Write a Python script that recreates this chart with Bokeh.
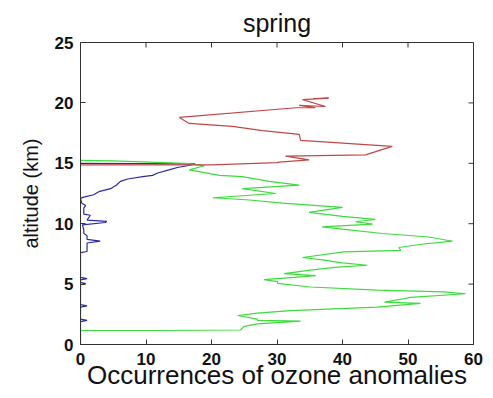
from bokeh.plotting import figure
from bokeh.models import FixedTicker, Range1d
from bokeh.embed import file_html
from bokeh.resources import INLINE

# ---- data ----
blue_alt = [0.0, 1.9, 2.0, 2.1, 3.1, 3.2, 3.3, 4.95, 5.05, 5.15, 5.35, 5.45, 5.55, 7.6, 7.7, 8.0,
            8.4, 8.55, 8.7, 9.0, 9.2, 9.5, 9.9, 10.1, 10.2, 10.3, 10.7, 10.8, 11.3, 11.5, 11.7,
            12.1, 12.2, 12.4, 12.65, 12.9, 13.2, 13.5, 13.7, 13.9, 14.0, 14.2, 14.45, 14.65,
            14.8, 14.95, 15.0]
blue_occ = [0.0, 0.0, 1.0, 0.0, 0.0, 1.0, 0.0, 0.0, 0.8, 0.0, 0.0, 1.0, 0.0, 0.0, 1.0, 1.0,
            1.0, 3.0, 1.0, 1.0, 0.5, 0.5, 0.3, 3.8, 4.0, 1.0, 1.5, 0.5, 0.5, 0.8, 0.2,
            0.0, 0.5, 2.0, 2.8, 4.6, 5.5, 6.1, 7.2, 9.5, 11.0, 11.8, 13.5, 14.8,
            16.3, 17.5, 0.0]

green_alt = [1.16, 1.16, 1.2, 1.5, 1.7, 1.94, 2.0, 2.1, 2.4, 2.6, 2.8, 3.1, 3.4, 3.5, 3.9, 4.2,
             4.35, 4.5, 4.76, 5.06, 5.2, 5.37, 5.54, 5.7, 5.87, 6.15, 6.4, 6.56, 6.75, 6.98,
             7.2, 7.67, 7.8, 8.03, 8.3, 8.55, 8.9, 9.19, 9.55, 9.74, 9.97, 10.16, 10.35, 10.6,
             10.94, 11.35, 11.7, 11.96, 12.15, 12.5, 12.9, 13.2, 13.5, 13.9, 14.0, 14.45,
             14.8, 15.0, 15.2, 15.25]
green_occ = [0.0, 11.5, 24.4, 25.0, 27.0, 33.6, 27.0, 27.0, 24.0, 27.0, 32.1, 45.3, 51.9, 46.4,
             50.4, 58.8, 55.5, 45.3, 35.1, 30.1, 30.1, 28.0, 32.1, 35.9, 31.1, 35.1, 39.2, 43.8,
             40.0, 37.2, 33.9, 40.2, 48.9, 48.6, 52.0, 56.8, 53.2, 46.1, 40.0, 36.9, 44.6, 42.0,
             45.0, 40.0, 34.9, 40.0, 30.8, 25.8, 20.2, 29.8, 24.7, 33.4, 28.8, 24.7, 21.2, 16.6,
             18.9, 16.0, 5.0, 0.0]

red_alt = [14.87, 14.87, 15.05, 15.1, 15.28, 15.6, 15.7, 16.4, 16.9, 17.4, 17.7, 18.05, 18.3,
           18.8, 19.6, 19.6, 19.8, 19.7, 20.27, 20.4, 20.35]
red_occ = [0.0, 20.0, 30.0, 30.3, 34.9, 31.3, 43.5, 47.6, 33.6, 33.4, 27.8, 23.2, 16.6,
           15.1, 32.9, 35.9, 33.4, 37.4, 33.9, 37.9, 35.5]

x_ticks = [0, 10, 20, 30, 40, 50, 60]
y_ticks = [0, 5, 10, 15, 20, 25]
x_min, x_max = 0, 60
y_min, y_max = 0, 25

title_text = "spring"
x_label = "Occurrences of ozone anomalies"
y_label = "altitude (km)"

FONT = "Liberation Sans"
AXC = "#333333"

p = figure(frame_width=393, frame_height=302, output_backend="svg", toolbar_location=None,
           x_range=Range1d(x_min, x_max), y_range=Range1d(y_min, y_max),
           min_border_left=80, min_border_right=12, min_border_top=42, min_border_bottom=10,
           title=title_text)

p.line(blue_occ, blue_alt, line_color="#2a2aa8", line_width=1.2)
p.line(green_occ, green_alt, line_color="#3cdc3c", line_width=1.2)
p.line(red_occ, red_alt, line_color="#c04848", line_width=1.2)

# mirrored inward ticks on the top and right edges (half of each dash is clipped by the frame)
p.scatter(x_ticks, [y_max] * len(x_ticks), marker="dash", angle=1.5707963, size=10,
          line_color=AXC, line_width=1)
p.scatter([x_max] * len(y_ticks), y_ticks, marker="dash", size=10,
          line_color=AXC, line_width=1)

p.title.text_font = FONT
p.title.text_font_size = "25px"
p.title.text_font_style = "normal"
p.title.align = "center"
p.title.offset = -10
p.title.standoff = 12
p.title.text_color = "#111111"

p.xgrid.visible = False
p.ygrid.visible = False
p.outline_line_color = AXC
p.outline_line_width = 1
p.background_fill_color = "white"
p.border_fill_color = "white"

for ax, ticks in ((p.xaxis[0], x_ticks), (p.yaxis[0], y_ticks)):
    ax.ticker = FixedTicker(ticks=ticks)
    ax.major_tick_in = 5
    ax.major_tick_out = 0
    ax.minor_tick_line_color = None
    ax.axis_line_color = AXC
    ax.major_tick_line_color = AXC
    ax.major_label_text_font = FONT
    ax.major_label_text_font_size = "17px"
    ax.major_label_text_font_style = "bold"
    ax.major_label_text_color = "#111111"
    ax.axis_label_text_font = FONT
    ax.axis_label_text_font_style = "normal"
    ax.axis_label_text_color = "#111111"

p.xaxis[0].axis_label = x_label
p.xaxis[0].axis_label_text_font_size = "26px"
p.xaxis[0].major_label_standoff = 8
p.xaxis[0].axis_label_standoff = -8

p.yaxis[0].axis_label = y_label
p.yaxis[0].axis_label_text_font_size = "20px"
p.yaxis[0].major_label_standoff = 7
p.yaxis[0].axis_label_standoff = 10

open("out.html", "w").write(file_html(p, INLINE))
